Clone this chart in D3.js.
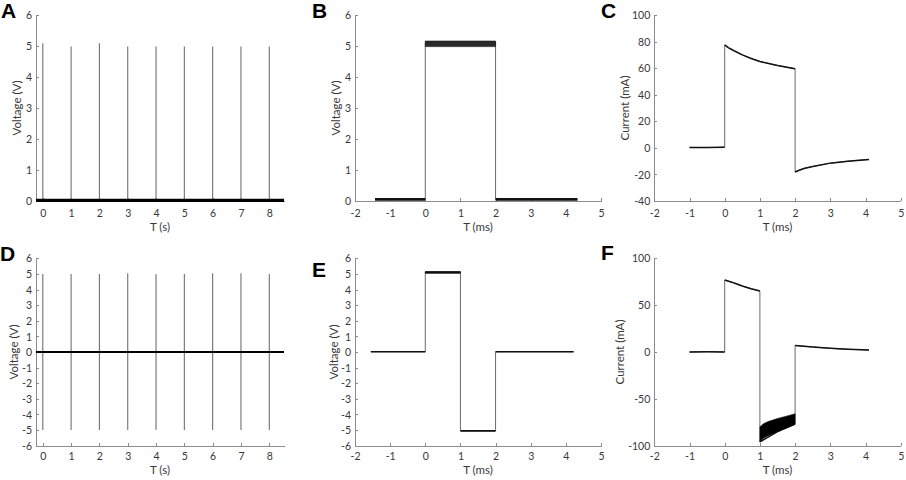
<!DOCTYPE html>
<html>
<head>
<meta charset="utf-8">
<script src="https://cdn.jsdelivr.net/npm/d3@7"></script>
<style>
  body { margin: 0; background: #fff; }
  svg { display: block; font-family: Lato, "Open Sans", sans-serif; }
  .axis path, .axis line { stroke: #8c8c8c; shape-rendering: crispEdges; }
  .axis text { fill: #383838; font-size: 10.5px; }
  .lbl { fill: #383838; font-size: 11.5px; text-anchor: middle; }
  .letter { font-family: "Liberation Sans", Arial, sans-serif; font-weight: bold; font-size: 21px; fill: #000; }
</style>
</head>
<body>
<svg id="fig" width="906" height="480"></svg>
<script>
// ---- data ----
// A / D: pulse trains (s)
var spikeT = [0, 1, 2, 3, 4, 5, 6, 7, 8];
var aSpikeV = [5.09, 4.98, 5.09, 4.98, 4.98, 4.98, 4.98, 4.98, 4.98];
var aBaseT = [-0.24, 8.52];
var aBaseV = [0.02, 0.02];
var dSpikeHi = [5.0, 5.0, 5.0, 5.05, 5.0, 5.0, 5.05, 5.05, 5.0];
var dSpikeLo = [-5.0, -5.0, -5.0, -5.0, -5.0, -5.0, -5.0, -5.0, -5.0];
var dBaseT = [-0.24, 8.52];
var dBaseV = [0, 0];

// B: monophasic voltage pulse (ms)
var bT = [-1.43, 0, 0, 2, 2, 4.33];
var bV = [0.05, 0.05, 5.1, 5.1, 0.05, 0.05];
var bBandT = [0, 2];
var bBandLo = [4.98, 4.98];
var bBandHi = [5.16, 5.16];

// C: current for the monophasic pulse (mA)
var cT = [-1, -0.5, 0, 0, 0.1, 0.25, 0.5, 0.75, 1, 1.5, 2, 2, 2.1, 2.25, 2.5, 3, 3.5, 4.1];
var cV = [0.3, 0.2, 0.5, 77.5, 75.5, 73.3, 70, 67.3, 65, 62, 59.5, -18.2, -17, -15.5, -14, -11.5, -10, -8.7];

// E: biphasic voltage pulse (ms)
var eT = [-1.55, 0, 0, 1, 1, 2, 2, 4.22];
var eV = [0.02, 0.02, 5.1, 5.1, -5.05, -5.05, 0.02, 0.02];
var eBandT = [0, 1];
var eBandLo = [5.04, 5.04];
var eBandHi = [5.15, 5.15];

// F: current for the biphasic pulse (mA)
var fT = [-1, -0.5, 0, 0, 0.25, 0.5, 0.75, 1, 1, 1.5, 2, 2, 2.5, 3, 3.5, 4.1];
var fV = [0, 0.3, 0, 76.8, 73.9, 70.4, 67.5, 65, -96, -85, -77, 7, 5.4, 3.9, 2.9, 2.1];
var fBandT = [1, 1.1, 1.25, 1.5, 1.75, 2];
var fBandLo = [-96, -92, -89, -85, -81, -77];
var fBandHi = [-80, -76.5, -74, -71, -68.5, -66];

// ticks
var sTicks = [0, 1, 2, 3, 4, 5, 6, 7, 8];
var msTicks = [-2, -1, 0, 1, 2, 3, 4, 5];
var vTicksPos = [0, 1, 2, 3, 4, 5, 6];
var vTicksBi = [-6, -5, -4, -3, -2, -1, 0, 1, 2, 3, 4, 5, 6];
var cTicks = [-40, -20, 0, 20, 40, 60, 80, 100];
var fTicks = [-100, -50, 0, 50, 100];

var svg = d3.select('#fig');

function panel(cfg) {
  var g = svg.append('g');
  var x = d3.scaleLinear().domain(cfg.xDom).range([cfg.left, cfg.right]);
  var y = d3.scaleLinear().domain(cfg.yDom).range([cfg.bottom, cfg.top]);

  var xa = g.append('g').attr('class', 'axis')
      .attr('transform', 'translate(0,' + cfg.bottom + ')')
      .call(d3.axisBottom(x).tickValues(cfg.xTicks).tickSizeInner(-3).tickSizeOuter(0).tickFormat(String));
  xa.selectAll('text').attr('y', cfg.tickY).attr('dy', '0.35em');

  var ya = g.append('g').attr('class', 'axis')
      .attr('transform', 'translate(' + cfg.left + ',0)')
      .call(d3.axisLeft(y).tickValues(cfg.yTicks).tickSizeInner(-3).tickSizeOuter(0).tickFormat(String));
  ya.selectAll('text').attr('x', -4).attr('dy', '0.35em');
  g.selectAll('.axis').attr('font-family', null).attr('font-size', null);

  g.append('text').attr('class', 'lbl')
      .attr('x', (cfg.left + cfg.right) / 2).attr('y', cfg.bottom + cfg.labelY)
      .text(cfg.xLabel);
  g.append('text').attr('class', 'lbl')
      .attr('transform', 'translate(' + cfg.yLabelX + ',' + (cfg.top + cfg.bottom) / 2 + ') rotate(-90)')
      .attr('dy', '0.35em')
      .text(cfg.yLabel);
  svg.append('text').attr('class', 'letter')
      .attr('x', cfg.letterX).attr('y', cfg.letterY).text(cfg.letter);

  return {g: g, x: x, y: y};
}

// polyline: thin grey for jumps, black for the sampled stretches
function trace(p, ts, vs, w) {
  var pts = ts.map(function(t, i) { return [p.x(t), p.y(vs[i])]; });
  p.g.append('path')
      .attr('d', d3.line()(pts))
      .attr('fill', 'none').attr('stroke', '#6a6a6a').attr('stroke-width', 1);
  var segs = d3.pairs(pts).filter(function(s, i) { return ts[i] !== ts[i + 1]; });
  p.g.selectAll(null).data(segs).enter().append('line')
      .attr('x1', function(s) { return s[0][0]; }).attr('y1', function(s) { return s[0][1]; })
      .attr('x2', function(s) { return s[1][0]; }).attr('y2', function(s) { return s[1][1]; })
      .attr('stroke', '#111').attr('stroke-width', w).attr('stroke-linecap', 'butt');
}

function band(p, ts, lo, hi, fill) {
  var area = d3.area()
      .x(function(d) { return p.x(d); })
      .y0(function(d, i) { return p.y(lo[i]); })
      .y1(function(d, i) { return p.y(hi[i]); });
  p.g.append('path').attr('d', area(ts)).attr('fill', fill).attr('stroke', '#111').attr('stroke-width', 0.6);
}

function spikes(p, ts, lo, hi) {
  p.g.selectAll(null).data(ts).enter().append('line')
      .attr('x1', function(t) { return p.x(t); }).attr('x2', function(t) { return p.x(t); })
      .attr('y1', function(t, i) { return p.y(lo[i]); })
      .attr('y2', function(t, i) { return p.y(hi[i]); })
      .attr('stroke', '#707070').attr('stroke-width', 1.1);
}

function baseline(p, ts, vs, w) {
  p.g.append('path')
      .attr('d', d3.line()(ts.map(function(t, i) { return [p.x(t), p.y(vs[i])]; })))
      .attr('stroke', '#000').attr('stroke-width', w).attr('fill', 'none');
}

var row1 = {top: 15, bottom: 201, tickY: 12, labelY: 30};
var row2 = {top: 258.3, bottom: 445.7, tickY: 11, labelY: 28.5};

function merge(a, b) { return Object.assign({}, a, b); }

// A
var pA = panel(merge(row1, {left: 36, right: 284, xDom: [-0.24, 8.52], yDom: [0, 6],
  xTicks: sTicks, yTicks: vTicksPos, xLabel: 'T (s)', yLabel: 'Voltage (V)', yLabelX: 17,
  letter: 'A', letterX: 1, letterY: 18}));
spikes(pA, spikeT, spikeT.map(function() { return 0; }), aSpikeV);
baseline(pA, aBaseT, aBaseV, 3.3);

// B
var pB = panel(merge(row1, {left: 355, right: 601, xDom: [-2, 5], yDom: [0, 6],
  xTicks: msTicks, yTicks: vTicksPos, xLabel: 'T (ms)', yLabel: 'Voltage (V)', yLabelX: 336,
  letter: 'B', letterX: 312, letterY: 18}));
trace(pB, bT, bV, 2.8);
band(pB, bBandT, bBandLo, bBandHi, '#2a2a2a');

// C
var pC = panel(merge(row1, {left: 654.3, right: 900.7, xDom: [-2, 5], yDom: [-40, 100],
  xTicks: msTicks, yTicks: cTicks, xLabel: 'T (ms)', yLabel: 'Current (mA)', yLabelX: 625,
  letter: 'C', letterX: 601, letterY: 18}));
trace(pC, cT, cV, 1.5);

// D
var pD = panel(merge(row2, {left: 36, right: 284, xDom: [-0.24, 8.52], yDom: [-6, 6],
  xTicks: sTicks, yTicks: vTicksBi, xLabel: 'T (s)', yLabel: 'Voltage (V)', yLabelX: 13.5,
  letter: 'D', letterX: 0, letterY: 261}));
spikes(pD, spikeT, dSpikeLo, dSpikeHi);
baseline(pD, dBaseT, dBaseV, 2);

// E
var pE = panel(merge(row2, {left: 355, right: 601, xDom: [-2, 5], yDom: [-6, 6],
  xTicks: msTicks, yTicks: vTicksBi, xLabel: 'T (ms)', yLabel: 'Voltage (V)', yLabelX: 333.5,
  letter: 'E', letterX: 312, letterY: 277}));
trace(pE, eT, eV, 1.6);
band(pE, eBandT, eBandLo, eBandHi, '#111');

// F
var pF = panel(merge(row2, {left: 654.3, right: 900.7, xDom: [-2, 5], yDom: [-100, 100],
  xTicks: msTicks, yTicks: fTicks, xLabel: 'T (ms)', yLabel: 'Current (mA)', yLabelX: 620,
  letter: 'F', letterX: 601, letterY: 260}));
trace(pF, fT, fV, 1.5);
band(pF, fBandT, fBandLo, fBandHi, '#000');
</script>
</body>
</html>
